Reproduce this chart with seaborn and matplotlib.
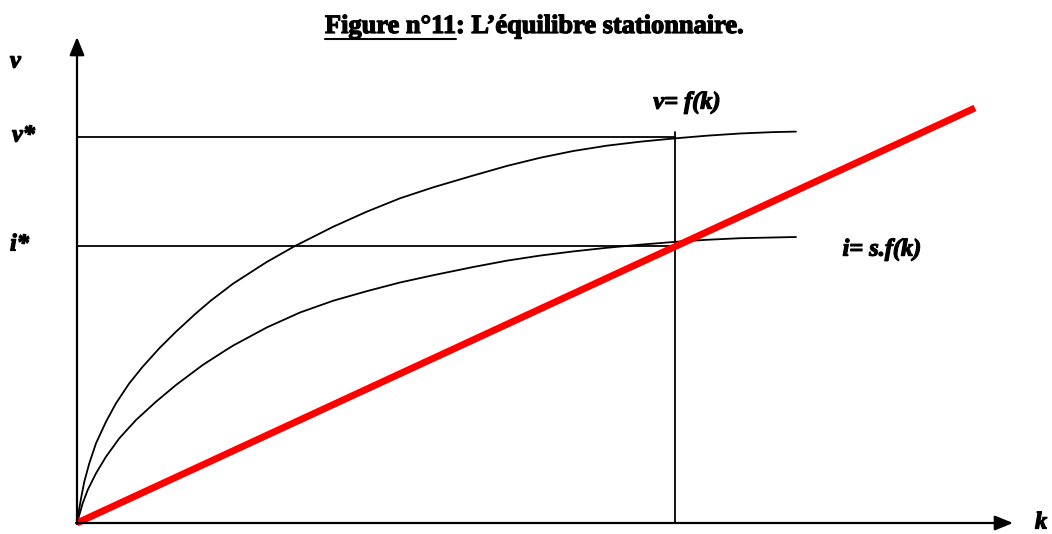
import matplotlib
matplotlib.use('Agg')
import matplotlib.pyplot as plt
import matplotlib.patheffects as pe
import seaborn as sns
import pandas as pd
from matplotlib.lines import Line2D

sns.set_style('white')
plt.rcParams['font.family'] = ['Liberation Serif', 'DejaVu Serif']

# courbes (unités arbitraires, origine = 0)
k_f = [0, 1.7, 4, 7.3, 12.3, 19, 29, 39, 52.3, 65.7, 82.3, 99, 119, 134, 156.3, 189.7, 218,
       256.3, 289.7, 323, 356.3, 396.3, 429.7, 463, 496.3, 529.7, 563, 598.7, 629.7, 663, 696.3, 719]
v_f = [0, 11, 24.5, 41.3, 59.7, 79.7, 101.3, 119.7, 139.7, 156.3, 174.7, 191.3, 209.7, 222.5, 239.5, 261, 277,
       296.3, 311.3, 324.7, 335.7, 347.5, 357, 365.2, 372, 377.3, 381.3, 384.7, 387.3, 389.5, 390.9, 391.4]

k_sf = [0, 2.3, 5.7, 10.7, 19, 29, 42.3, 59, 79, 99, 125.7, 149, 156.3, 189.7, 223, 256.3, 289.7,
        323, 356.3, 396.3, 429.7, 463, 496.3, 529.7, 563, 598.7, 629.7, 663, 719]
v_sf = [0, 8, 19.7, 33, 49.7, 66.3, 84.7, 103, 121.3, 138, 158, 173, 177.5, 195.5, 210.5, 222.3, 231.8,
        240.5, 247.8, 256, 262.3, 267.4, 271.6, 275.2, 278.3, 281.2, 283.2, 284.8, 286]

# droite d'investissement nécessaire
k_line = [0, 898]
i_line = [0, 415]

k_star = 598
v_star = 386
i_star = 277
k_max = 936
v_max = 486

fig = plt.figure(figsize=(10.52, 5.34), dpi=100)
ax = fig.add_axes([0, 0, 1, 1])
ax.set_xlim(-77, 975)
ax.set_ylim(-11, 523)
ax.axis('off')

df_f = pd.DataFrame({'k': k_f, 'v': v_f})
df_sf = pd.DataFrame({'k': k_sf, 'v': v_sf})
df_line = pd.DataFrame({'k': k_line, 'v': i_line})

# lignes de repère
ax.plot([0, k_star], [v_star, v_star], color='black', lw=1.3)
ax.plot([0, k_star], [i_star, i_star], color='black', lw=1.3)
ax.plot([k_star, k_star], [0, v_f[-1]], color='black', lw=1.3)

sns.lineplot(data=df_f, x='k', y='v', color='black', lw=1.3, estimator=None, ax=ax)
sns.lineplot(data=df_sf, x='k', y='v', color='black', lw=1.3, estimator=None, ax=ax)
sns.lineplot(data=df_line, x='k', y='v', color='#ff0000', lw=5, estimator=None, ax=ax,
             solid_capstyle='butt')

# axes avec flèches
arrow = dict(arrowstyle='-|>,head_length=1.1,head_width=0.45', color='black', lw=1.6,
             shrinkA=0, shrinkB=0)
ax.annotate('', xy=(0, v_max), xytext=(0, -1), arrowprops=arrow)
ax.annotate('', xy=(k_max, 0), xytext=(-1, 0), arrowprops=arrow)

bold = [pe.withStroke(linewidth=0.9, foreground='black')]
lab = dict(fontsize=17.5, fontweight='bold', fontstyle='italic', color='black', path_effects=bold)
ax.text(-67, 461, 'v', ha='left', va='center', **lab)
ax.text(-65, v_star + 1, 'v*', ha='left', va='center', **lab)
ax.text(-67, i_star + 1, 'i*', ha='left', va='center', **lab)
ax.text(958, 0, 'k', ha='left', va='center', **lab)
ax.text(610, 420, 'v= f(k)', ha='center', va='center', **lab)
ax.text(805, 273, 'i= s.f(k)', ha='center', va='center', **lab)

# titre avec « Figure n°11 » souligné
tstyle = dict(fontsize=19, fontweight='bold', color='black', va='baseline', path_effects=bold)
t1 = fig.text(325 / 1052, 1 - 33 / 534, 'Figure n°11', ha='left', **tstyle)
fig.canvas.draw()
r = fig.canvas.get_renderer()
bb = t1.get_window_extent(r)
fig.text(bb.x1 / 1052, 1 - 33 / 534, ': L’équilibre stationnaire.', ha='left', **tstyle)
uy = (534 - 39) / 534
fig.add_artist(Line2D([bb.x0 / 1052, bb.x1 / 1052], [uy, uy], color='black', lw=1.5,
                      transform=fig.transFigure))

fig.savefig('out.png', dpi=100)
